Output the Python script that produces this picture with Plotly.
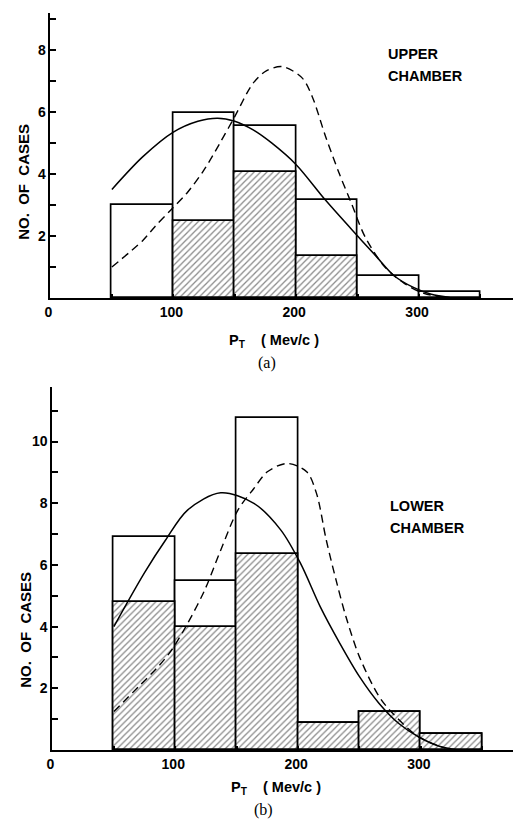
import plotly.graph_objects as go

# ---------------- data ----------------
bin_centers = [75, 125, 175, 225, 275, 325]   # 50-MeV/c bins, 50..350
bin_width = 50

upper_total = [3.0, 5.95, 5.55, 3.15, 0.7, 0.18]
upper_hatched = [None, 2.48, 4.05, 1.34, None, None]

lower_total = [6.9, 5.47, 10.77, 0.86, 1.24, 0.52]
lower_hatched = [4.81, 4.0, 6.35, 0.86, 1.24, 0.52]

upper_solid_x = [50, 75, 100, 120, 136, 150, 165, 180, 200, 224, 250, 265, 280, 295, 310, 325]
upper_solid_y = [3.5, 4.55, 5.35, 5.7, 5.8, 5.7, 5.42, 5.0, 4.3, 3.15, 2.0, 1.35, 0.71, 0.35, 0.12, 0.02]

upper_dash_x = [50, 75, 85, 98, 111, 125, 138, 150, 165, 176, 189, 205, 213, 224, 235, 245, 256, 272, 288, 304, 320]
upper_dash_y = [1.0, 1.85, 2.3, 2.84, 3.38, 4.13, 5.0, 5.85, 6.93, 7.33, 7.46, 7.09, 6.5, 5.2, 4.02, 3.05, 1.98, 1.01, 0.47, 0.15, 0.03]

lower_solid_x = [50, 75, 92, 110, 137, 164, 186, 202, 218, 234, 250, 266, 282, 298, 315, 330]
lower_solid_y = [4.0, 5.75, 6.8, 7.78, 8.34, 8.0, 7.13, 6.05, 4.65, 3.46, 2.38, 1.51, 0.86, 0.43, 0.12, 0.0]

lower_dash_x = [50, 70, 86, 97, 110, 124, 137, 151, 164, 175, 191, 207, 215, 223, 231, 239, 250, 266, 277, 298, 320]
lower_dash_y = [1.25, 2.05, 2.7, 3.24, 4.1, 5.19, 6.48, 7.78, 8.48, 9.02, 9.29, 9.02, 8.32, 6.8, 5.5, 4.32, 3.02, 1.73, 1.19, 0.43, 0.06]

x_tick_step = 100
x_minor_step = 50
upper_y_labels = [2, 4, 6, 8]
lower_y_labels = [2, 4, 6, 8, 10]
y_minor_step = 1

# ---------------- figure ----------------
W, H = 513, 819
def px(x):
    return x / W
def py(y):
    return 1 - y / H

fig = go.Figure()

def add_panel(xa, ya, total, hatched, sx, sy, dx, dy):
    fig.add_trace(go.Bar(x=bin_centers, y=total, width=bin_width,
                         marker=dict(color="white", line=dict(color="black", width=1.7)),
                         xaxis=xa, yaxis=ya, showlegend=False))
    fig.add_trace(go.Bar(x=bin_centers, y=hatched, width=bin_width,
                         marker=dict(color="white",
                                     line=dict(color="black", width=1.7),
                                     pattern=dict(shape="/", fgcolor="#111", bgcolor="white",
                                                  size=4.5, solidity=0.28)),
                         xaxis=xa, yaxis=ya, showlegend=False))
    fig.add_trace(go.Scatter(x=sx, y=sy, mode="lines",
                             line=dict(color="black", width=1.5, shape="spline", smoothing=0.9),
                             xaxis=xa, yaxis=ya, showlegend=False))
    fig.add_trace(go.Scatter(x=dx, y=dy, mode="lines",
                             line=dict(color="black", width=1.4, shape="spline", smoothing=0.9,
                                       dash="8px,5px"),
                             xaxis=xa, yaxis=ya, showlegend=False))

add_panel("x", "y", upper_total, upper_hatched, upper_solid_x, upper_solid_y, upper_dash_x, upper_dash_y)
add_panel("x2", "y2", lower_total, lower_hatched, lower_solid_x, lower_solid_y, lower_dash_x, lower_dash_y)

tickfont = dict(family="Liberation Sans", size=14, color="black", weight="bold")
common_x = dict(showline=True, linecolor="black", linewidth=2, showgrid=False, zeroline=False,
                ticks="inside", ticklen=4, tickwidth=1.5, tickcolor="black",
                tick0=0, dtick=x_tick_step, tickfont=tickfont, ticklabelshift=-2,
                minor=dict(ticks="inside", ticklen=4, tickwidth=1.5, tickcolor="black",
                           dtick=x_minor_step, tick0=0, showgrid=False))
common_y = dict(showline=True, linecolor="black", linewidth=2, showgrid=False, zeroline=False,
                ticks="inside", ticklen=6, tickwidth=1.5, tickcolor="black",
                tickmode="array", tickfont=tickfont,
                minor=dict(ticks="inside", ticklen=6, tickwidth=1.5, tickcolor="black",
                           dtick=y_minor_step, tick0=0, showgrid=False))

fig.update_layout(
    width=W, height=H,
    margin=dict(l=0, r=0, t=0, b=0),
    paper_bgcolor="white", plot_bgcolor="white",
    barmode="overlay", bargap=0,
    xaxis=dict(domain=[px(45), 1], range=[0, 376.5], anchor="y", **common_x),
    yaxis=dict(domain=[py(298), py(13)], range=[0, 9.19], anchor="x",
               tickvals=upper_y_labels, **common_y),
    xaxis2=dict(domain=[px(47), 1], range=[0, 375], anchor="y2", **common_x),
    yaxis2=dict(domain=[py(750), py(387)], range=[0, 11.77], anchor="x2",
                tickvals=lower_y_labels, **common_y),
)

lab = dict(family="Liberation Sans", size=14.5, color="black")
ann = [
    dict(text="<b>UPPER</b>", x=px(385), y=py(54), xanchor="left", yanchor="middle", font=lab),
    dict(text="<b>CHAMBER</b>", x=px(385), y=py(76), xanchor="left", yanchor="middle", font=lab),
    dict(text="<b>LOWER</b>", x=px(387), y=py(506), xanchor="left", yanchor="middle", font=lab),
    dict(text="<b>CHAMBER</b>", x=px(387), y=py(528), xanchor="left", yanchor="middle", font=lab),
    dict(text="<b>NO.  OF  CASES</b>", x=px(17), y=py(182), textangle=-90, xanchor="center",
         yanchor="middle", font=dict(family="Liberation Sans", size=15, color="black")),
    dict(text="<b>NO.  OF  CASES</b>", x=px(19), y=py(630), textangle=-90, xanchor="center",
         yanchor="middle", font=dict(family="Liberation Sans", size=15, color="black")),
    dict(text="<b>P<sub>T</sub>    ( Mev/c )</b>", x=px(271), y=py(341), xanchor="center", yanchor="middle",
         font=dict(family="Liberation Sans", size=14.5, color="black")),
    dict(text="<b>P<sub>T</sub>    ( Mev/c )</b>", x=px(273), y=py(788), xanchor="center", yanchor="middle",
         font=dict(family="Liberation Sans", size=14.5, color="black")),
    dict(text="(a)", x=px(264), y=py(363), xanchor="center", yanchor="middle",
         font=dict(family="Liberation Serif", size=16, color="black")),
    dict(text="(b)", x=px(261), y=py(810), xanchor="center", yanchor="middle",
         font=dict(family="Liberation Serif", size=16, color="black")),
]
for a in ann:
    a.update(xref="paper", yref="paper", showarrow=False)
fig.update_layout(annotations=ann)

fig.write_html("out.html")
